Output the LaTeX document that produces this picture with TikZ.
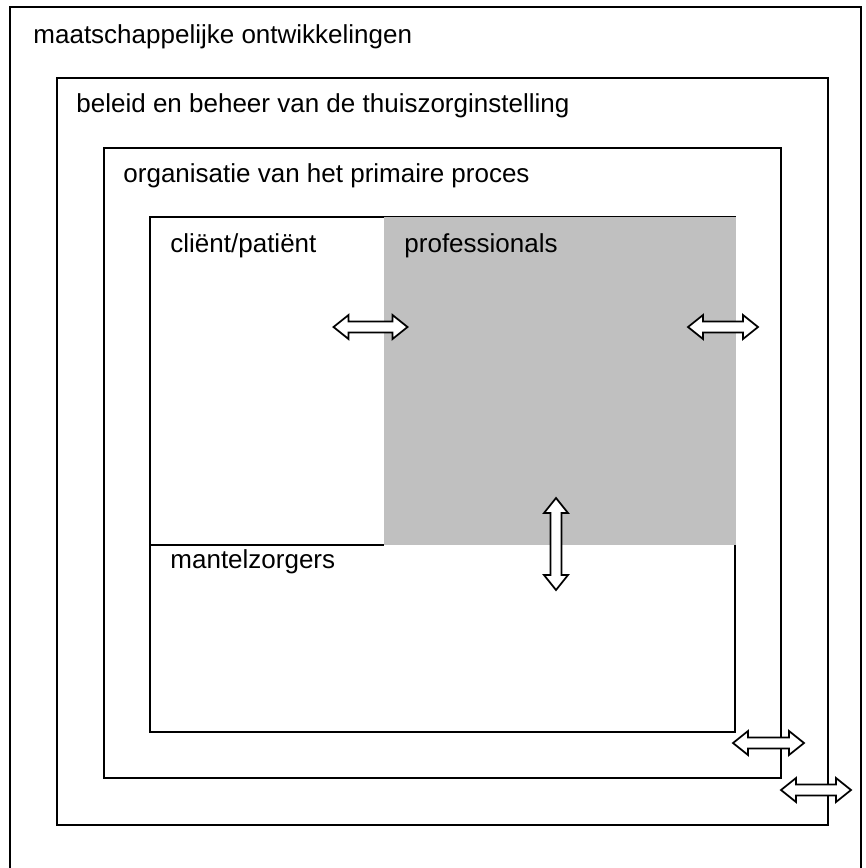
\documentclass[tikz,border=0pt]{standalone}
\usepackage{fontspec}
\setmainfont{Liberation Sans}

\tikzset{
	frame/.style={draw=black, line width=0.8pt},
	lbl/.style={anchor=base west, inner sep=0pt, font=\fontsize{12}{14}\selectfont},
	pijl/.style={draw=black, fill=white, line width=0.8pt, line join=miter}
}
% holle dubbele pijl: naam, midden, halve lengte, draaiing
\newcommand{\dubbelpijl}[4]{%
	\begin{scope}[shift={#2}, rotate=#4]
		\coordinate (#1) at (0,0);
		\draw[pijl] (-#3,0) -- (-#3+15,12) -- (-#3+15,5.5) -- (#3-15,5.5) -- (#3-15,12)
			-- (#3,0) -- (#3-15,-12) -- (#3-15,-5.5) -- (-#3+15,-5.5) -- (-#3+15,-12) -- cycle;
	\end{scope}}

\begin{document}
\begin{tikzpicture}[x=0.4615pt, y=-0.4615pt]
		\useasboundingbox (0,0) rectangle (866,868);
		% kaders
		\draw[frame] (10,869) -- (10,7) -- (861,7) -- (861,869);
		\draw[frame] (57,78) rectangle (828,825);
		\draw[frame] (104,148) rectangle (781,778);
		\draw[frame] (150,217) rectangle (735,732);
		\fill[fill={rgb,255:red,192;green,192;blue,192}] (384,216.5) rectangle (736,545);
		\draw[frame] (150,545) -- (384,545);
		% teksten
		\node[lbl] (maat) 	at ( 33, 43) 	{maatschappelijke ontwikkelingen};
		\node[lbl] (beleid) 	at ( 76,112) 	{beleid en beheer van de thuiszorginstelling};
		\node[lbl] (org) 	at (123,182) 	{organisatie van het primaire proces};
		\node[lbl] (client) 	at (170,252) 	{cliënt/patiënt};
		\node[lbl] (prof) 	at (404,252) 	{professionals};
		\node[lbl] (mantel) 	at (170,568) 	{mantelzorgers};
		% pijlen
		\dubbelpijl{clientprof}{(370.5,327)}{37}{0}
		\dubbelpijl{profrechts}{(723,327)}{35}{0}
		\dubbelpijl{profmantel}{(556,544)}{46}{90}
		\dubbelpijl{orgbeleid}{(768.5,743)}{35.5}{0}
		\dubbelpijl{beleidmaat}{(816,790)}{35}{0}
	\end{tikzpicture}
\end{document}
